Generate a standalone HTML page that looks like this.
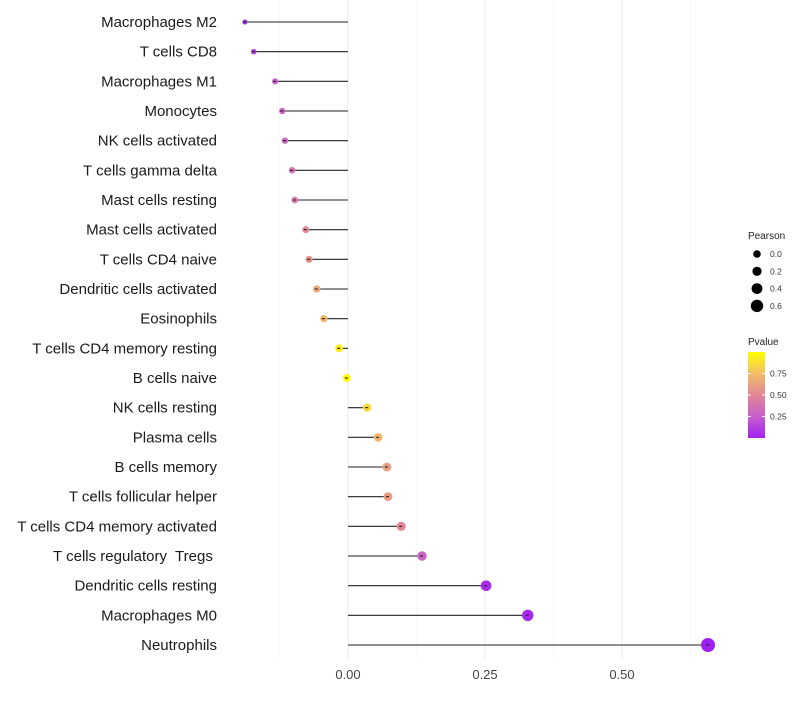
<!DOCTYPE html>
<html><head><meta charset="utf-8"><style>
body{margin:0;background:#fff;}
svg text{font-family:"Liberation Sans",sans-serif;white-space:pre;}
</style></head><body>
<svg id="c" width="800" height="700"></svg>
<script>
const categories=["Macrophages M2","T cells CD8","Macrophages M1","Monocytes","NK cells activated","T cells gamma delta","Mast cells resting","Mast cells activated","T cells CD4 naive","Dendritic cells activated","Eosinophils","T cells CD4 memory resting","B cells naive","NK cells resting","Plasma cells","B cells memory","T cells follicular helper","T cells CD4 memory activated","T cells regulatory  Tregs ","Dendritic cells resting","Macrophages M0","Neutrophils"];
const pearson=[-0.188,-0.172,-0.133,-0.120,-0.115,-0.102,-0.097,-0.077,-0.071,-0.057,-0.044,-0.016,-0.002,0.035,0.055,0.071,0.073,0.097,0.135,0.252,0.328,0.657];
const pvalue=[0.05,0.1,0.25,0.3,0.3,0.38,0.4,0.5,0.55,0.65,0.72,0.93,0.99,0.85,0.72,0.6,0.6,0.5,0.3,0.05,0.03,0.001];
const xTicks=[0,0.25,0.5];
const xMinor=[-0.125,0.125,0.375,0.625];
const sizeLegend=[0.0,0.2,0.4,0.6];
const colorTicks=[0.25,0.5,0.75];

const NS="http://www.w3.org/2000/svg";
const svg=document.getElementById('c');
function el(t,a,p){const e=document.createElementNS(NS,t);for(const k in a)e.setAttribute(k,a[k]);(p||svg).appendChild(e);return e;}
const x=v=>348+v*548;
const y=i=>22+i*(623/21);
const stops=[[0,[160,32,240]],[0.25,[198,95,205]],[0.5,[225,135,150]],[0.75,[243,188,105]],[1,[255,255,0]]];
function col(p){for(let i=1;i<stops.length;i++){if(p<=stops[i][0]){const a=stops[i-1],b=stops[i],t=(p-a[0])/(b[0]-a[0]);return 'rgb('+a[1].map((c,j)=>Math.round(c+(b[1][j]-c)*t)).join(',')+')';}}return 'rgb(255,255,0)';}
const rad=v=>Math.sqrt(Math.max(16,64+201*v))/2;

const grid=el('g',{});


xMinor.forEach(v=>{el('line',{x1:x(v),x2:x(v),y1:0,y2:660,stroke:'#f3f3f3','stroke-width':0.6},grid);});
xTicks.forEach((v,i)=>{el('line',{x1:x(v),x2:x(v),y1:0,y2:660,stroke:'#ebebeb','stroke-width':1},grid);
 const t=el('text',{x:x(v),y:679,'text-anchor':'middle','font-size':13,fill:'#444'});t.textContent=v.toFixed(2);
 
 });

categories.forEach((c,i)=>{
 const t=el('text',{x:217,y:y(i)+5,'text-anchor':'end','font-size':15,fill:'#1a1a1a'});t.textContent=c;
 
 
 const l=el('line',{x1:x(0),x2:x(pearson[i]),y1:y(i),y2:y(i),stroke:'#222','stroke-width':1.1});
 
 
 const d=el('circle',{cx:x(pearson[i]),cy:y(i),r:rad(pearson[i]),fill:col(pvalue[i])});
 
 
 el('line',{x1:x(pearson[i])-2,x2:x(pearson[i])+1,y1:y(i),y2:y(i),stroke:'#222','stroke-width':1.1});
});

const lg=el('g',{});


let tt=el('text',{x:748,y:239,'font-size':10,fill:'#222'},lg);tt.textContent='Pearson';
const lr=[3.8,4.6,5.4,6.2];
sizeLegend.forEach((v,i)=>{const cy=254+i*17.3;el('circle',{cx:757,cy:cy,r:lr[i],fill:'#000'},lg);
 const t=el('text',{x:770,y:cy+3,'font-size':8.5,fill:'#333'},lg);t.textContent=v.toFixed(1);});
const cg=el('g',{});


tt=el('text',{x:748,y:345,'font-size':10,fill:'#222'},cg);tt.textContent='Pvalue';
const defs=el('defs',{});const gr=el('linearGradient',{id:'pg',x1:0,y1:1,x2:0,y2:0},defs);
stops.forEach(s=>el('stop',{offset:s[0],'stop-color':col(s[0])},gr));
el('rect',{x:748,y:352,width:17,height:86,fill:'url(#pg)'},cg);
colorTicks.forEach(v=>{const cy=438-v*86;el('line',{x1:748,x2:751,y1:cy,y2:cy,stroke:'#fff'},cg);el('line',{x1:762,x2:765,y1:cy,y2:cy,stroke:'#fff'},cg);
 const t=el('text',{x:770,y:cy+3,'font-size':8.5,fill:'#333'},cg);t.textContent=v.toFixed(2);});
</script>
</body></html>
